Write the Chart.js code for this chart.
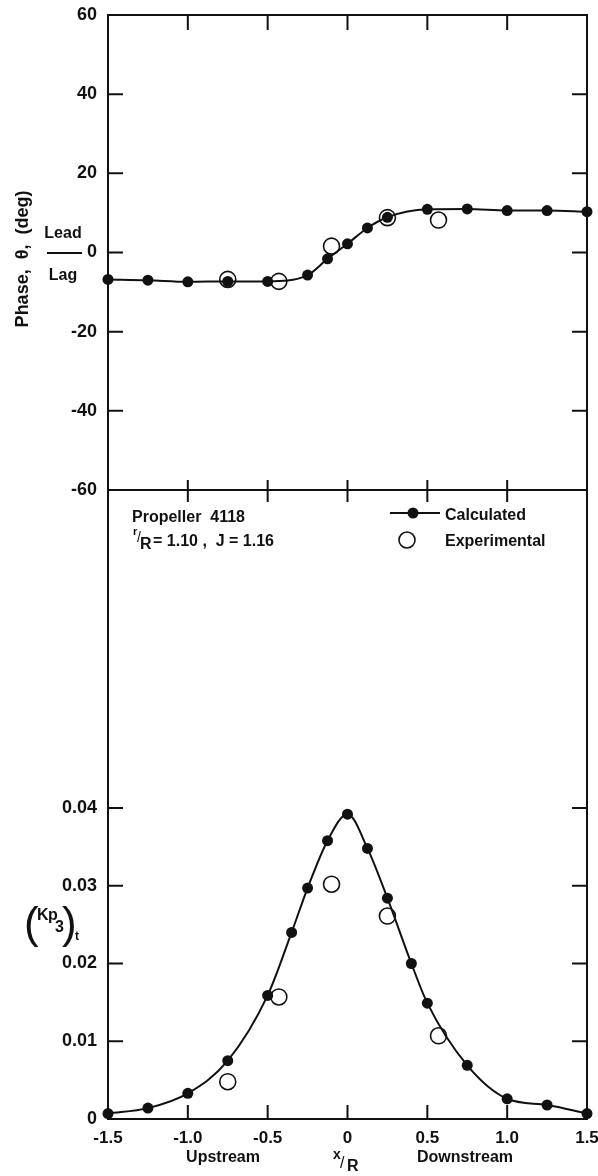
<!DOCTYPE html>
<html>
<head>
<meta charset="utf-8">
<script src="https://cdn.jsdelivr.net/npm/chart.js@4.4.1/dist/chart.umd.min.js"></script>
<style>
html, body { margin: 0; padding: 0; background: #fff; }
#wrap { position: relative; width: 598px; height: 1176px; }
</style>
</head>
<body>
<div id="wrap"><canvas id="propChart" width="598" height="1176"></canvas></div>
<script>
// tick values
const xTicks = [-1.5, -1.0, -0.5, 0, 0.5, 1.0, 1.5];
const phaseTicks = [-60, -40, -20, 0, 20, 40, 60];
const kpTicks = [0, 0.01, 0.02, 0.03, 0.04];

// phase, calculated
const phaseX = [-1.5, -1.25, -1.0, -0.75, -0.5, -0.25, -0.125, 0, 0.125, 0.25, 0.5, 0.75, 1.0, 1.25, 1.5];
const phaseCalc = [-6.8, -7.0, -7.4, -7.3, -7.3, -5.7, -1.6, 2.2, 6.2, 8.9, 10.9, 11.0, 10.6, 10.6, 10.3];

// experimental stations (same for both plots)
const expX = [-0.75, -0.43, -0.1, 0.25, 0.57];
const phaseExp = [-6.8, -7.3, 1.6, 8.8, 8.2];

// Kp3 amplitude
const kpX = [-1.5, -1.25, -1.0, -0.75, -0.5, -0.35, -0.25, -0.125, 0, 0.125, 0.25, 0.4, 0.5, 0.75, 1.0, 1.25, 1.5];
const kpCalc = [0.0007, 0.0014, 0.0033, 0.0075, 0.0159, 0.024, 0.0297, 0.0358, 0.0392, 0.0348, 0.0284, 0.0200, 0.0149, 0.0069, 0.0026, 0.0018, 0.0007];
const kpExp = [0.0048, 0.0157, 0.0302, 0.0261, 0.0107];

const FONT = '"Liberation Sans", Arial, sans-serif';
const INK = '#111';

const pairs = (xs, ys) => xs.map((x, i) => ({ x: x, y: ys[i] }));

const decor = {
    id: 'decor',
    afterDraw(chart) {
        const { ctx, chartArea: a, scales } = chart;
        const xs = scales.x, yP = scales.yP, yK = scales.yK;
        const mid = yP.bottom;
        ctx.save();
        ctx.strokeStyle = INK;
        ctx.lineWidth = 2;
        ctx.beginPath();
        // top, right and middle frame lines
        ctx.moveTo(a.left, a.top); ctx.lineTo(a.right, a.top); ctx.lineTo(a.right, a.bottom);
        ctx.moveTo(a.left, mid); ctx.lineTo(a.right, mid);
        // inward ticks
        xTicks.slice(1, -1).forEach(v => {
            const px = xs.getPixelForValue(v);
            ctx.moveTo(px, a.top); ctx.lineTo(px, a.top + 15);
            ctx.moveTo(px, mid - 10); ctx.lineTo(px, mid + 12);
            ctx.moveTo(px, a.bottom); ctx.lineTo(px, a.bottom - 14);
        });
        phaseTicks.slice(1, -1).forEach(v => {
            const py = yP.getPixelForValue(v);
            ctx.moveTo(a.left, py); ctx.lineTo(a.left + 15, py);
            ctx.moveTo(a.right, py); ctx.lineTo(a.right - 15, py);
        });
        kpTicks.slice(1).forEach(v => {
            const py = yK.getPixelForValue(v);
            ctx.moveTo(a.left, py); ctx.lineTo(a.left + 15, py);
            ctx.moveTo(a.right, py); ctx.lineTo(a.right - 15, py);
        });
        ctx.stroke();

        ctx.fillStyle = INK;
        // phase axis title
        ctx.save();
        ctx.translate(23, 259);
        ctx.rotate(-Math.PI / 2);
        ctx.textAlign = 'center';
        ctx.textBaseline = 'middle';
        ctx.font = 'bold 18px ' + FONT;
        ctx.fillText('Phase,  \u03B8,  (deg)', 0, 0);
        ctx.restore();

        ctx.font = 'bold 16px ' + FONT;
        ctx.textAlign = 'center';
        ctx.textBaseline = 'alphabetic';
        ctx.fillText('Lead', 63, 238);
        ctx.fillText('Lag', 63, 280);
        ctx.beginPath();
        ctx.moveTo(47, 253); ctx.lineTo(82, 253);
        ctx.stroke();

        // Kp3 axis title
        ctx.textAlign = 'left';
        ctx.font = '44px ' + FONT;
        ctx.fillText('(', 24, 938);
        ctx.fillText(')', 62, 938);
        ctx.font = 'bold 16px ' + FONT;
        ctx.fillText('K', 37, 920);
        ctx.fillText('p', 48, 920);
        ctx.fillText('3', 55, 932);
        ctx.font = 'bold 12px ' + FONT;
        ctx.fillText('t', 75, 940);

        // x axis titles
        ctx.font = 'bold 16px ' + FONT;
        ctx.textAlign = 'center';
        ctx.fillText('Upstream', 223, 1162);
        ctx.fillText('Downstream', 465, 1162);
        ctx.textAlign = 'left';
        ctx.font = 'bold 14px ' + FONT;
        ctx.fillText('x', 333, 1159);
        ctx.font = '16px ' + FONT;
        ctx.fillText('/', 340, 1168);
        ctx.font = 'bold 16px ' + FONT;
        ctx.fillText('R', 347, 1171);

        // annotation
        ctx.font = 'bold 16px ' + FONT;
        ctx.fillText('Propeller  4118', 132, 522);
        ctx.font = 'bold 11px ' + FONT;
        ctx.fillText('r', 133, 535);
        ctx.font = '14px ' + FONT;
        ctx.fillText('/', 137, 542);
        ctx.font = 'bold 16px ' + FONT;
        ctx.fillText('R', 140, 549);
        ctx.fillText('= 1.10 ,  J = 1.16', 153, 546);

        // legend
        ctx.beginPath();
        ctx.moveTo(390, 513); ctx.lineTo(440, 513);
        ctx.stroke();
        ctx.beginPath();
        ctx.arc(413, 513, 5.5, 0, Math.PI * 2);
        ctx.fill();
        ctx.beginPath();
        ctx.lineWidth = 1.6;
        ctx.arc(407, 540, 8, 0, Math.PI * 2);
        ctx.stroke();
        ctx.fillText('Calculated', 445, 520);
        ctx.fillText('Experimental', 445, 546);
        ctx.restore();
    }
};

const tickFont = { family: FONT, size: 18, weight: 'bold' };

const propChart = new Chart(document.getElementById('propChart'), {
    type: 'scatter',
    data: {
        datasets: [
            {
                label: 'Calculated',
                data: pairs(phaseX, phaseCalc),
                yAxisID: 'yP',
                showLine: true,
                cubicInterpolationMode: 'monotone',
                borderColor: INK,
                borderWidth: 2,
                backgroundColor: INK,
                pointRadius: 5.5,
                pointBorderWidth: 0,
                clip: false
            },
            {
                label: 'Experimental',
                data: pairs(expX, phaseExp),
                yAxisID: 'yP',
                showLine: false,
                borderColor: INK,
                backgroundColor: 'rgba(0,0,0,0)',
                pointRadius: 8,
                pointBorderWidth: 1.6,
                clip: false
            },
            {
                label: 'Calculated',
                data: pairs(kpX, kpCalc),
                yAxisID: 'yK',
                showLine: true,
                cubicInterpolationMode: 'monotone',
                borderColor: INK,
                borderWidth: 2,
                backgroundColor: INK,
                pointRadius: 5.5,
                pointBorderWidth: 0,
                clip: false
            },
            {
                label: 'Experimental',
                data: pairs(expX, kpExp),
                yAxisID: 'yK',
                showLine: false,
                borderColor: INK,
                backgroundColor: 'rgba(0,0,0,0)',
                pointRadius: 8,
                pointBorderWidth: 1.6,
                clip: false
            }
        ]
    },
    options: {
        responsive: false,
        animation: false,
        layout: { padding: { top: 15, right: 11, left: 0, bottom: 0 } },
        plugins: {
            legend: { display: false },
            tooltip: { enabled: false }
        },
        scales: {
            x: {
                type: 'linear',
                position: 'bottom',
                min: -1.5,
                max: 1.5,
                afterBuildTicks: s => { s.ticks = xTicks.map(v => ({ value: v })); },
                afterFit: s => { s.height = 57; s.paddingLeft = 0; s.paddingRight = 0; },
                grid: { display: false },
                border: { color: INK, width: 2 },
                ticks: {
                    color: INK,
                    font: { family: FONT, size: 17, weight: 'bold' },
                    padding: 1,
                    maxRotation: 0,
                    autoSkip: false,
                    callback: v => v === 0 ? '0' : v.toFixed(1)
                }
            },
            yK: {
                type: 'linear',
                position: 'left',
                stack: 'plots',
                stackWeight: 629,
                min: 0,
                max: 0.0809,
                afterBuildTicks: s => { s.ticks = kpTicks.map(v => ({ value: v })); },
                afterFit: s => { s.width = 108; s.paddingTop = 0; s.paddingBottom = 0; },
                grid: { display: false },
                border: { color: INK, width: 2 },
                ticks: {
                    color: INK,
                    font: tickFont,
                    padding: 3,
                    autoSkip: false,
                    callback: v => v === 0 ? '0' : v.toFixed(2)
                }
            },
            yP: {
                type: 'linear',
                position: 'left',
                stack: 'plots',
                stackWeight: 475,
                min: -60,
                max: 60,
                afterBuildTicks: s => { s.ticks = phaseTicks.map(v => ({ value: v })); },
                afterFit: s => { s.width = 108; s.paddingTop = 0; s.paddingBottom = 0; },
                grid: { display: false },
                border: { color: INK, width: 2 },
                ticks: {
                    color: INK,
                    font: tickFont,
                    padding: 3,
                    autoSkip: false,
                    callback: v => String(v)
                }
            }
        }
    },
    plugins: [decor]
});
</script>
</body>
</html>
